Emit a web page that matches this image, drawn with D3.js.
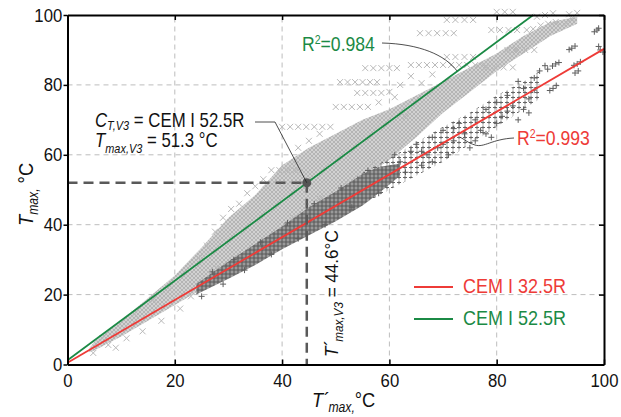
<!DOCTYPE html>
<html>
<head>
<meta charset="utf-8">
<script src="https://cdn.jsdelivr.net/npm/d3@7"></script>
<style>
  html, body { margin: 0; padding: 0; background: #fff; }
  svg { display: block; }
</style>
</head>
<body>
<svg id="chart" width="621" height="417"></svg>
<script>
// axis ticks
const xTicks = [0, 20, 40, 60, 80, 100];
const yTicks = [0, 20, 40, 60, 80, 100];
const gridTicks = [20, 40, 60, 80];

// fitted lines
const fit325 = [[0, 0.5], [100, 90.3]];
const fit525 = [[0, 1.2], [86.8, 100]];

// dense cloud of CEM I 52.5R (light x markers): envelope per x
const lightX     = [4,   5,   10,  15,  20,   25,   30, 35,   40, 45, 50, 55, 60, 65, 70, 75, 80, 85, 90, 95];
const lightUpper = [4.5, 6.5, 12.5, 19, 25.5, 33.5, 42, 48.5, 57, 62, 66, 70, 73, 77, 81, 85, 89, 94, 98, 99.5];
const lightLower = [3.5, 4,   8,   12.5, 17,  21.5, 26, 31.5, 38, 44, 48.5, 53.5, 58.5, 65, 72, 78, 84, 89, 94, 97.5];

// dense cloud of CEM I 32.5R (dark + markers)
const darkX     = [24, 30,   35,   40,   45, 50,   55,   58, 62];
const darkUpper = [23, 29.5, 34.5, 39.5, 45, 49.5, 54.5, 56.5, 57.5];
const darkLower = [20, 24.5, 28.5, 33,   37, 41,   45.5, 49, 54];
const sparseX     = [54, 60, 65, 70, 75, 80, 85, 88];
const sparseUpper = [54, 59, 63.5, 68, 72, 77, 81, 84];
const sparseLower = [45, 50, 54, 58, 63, 68, 73, 76];

// scattered CEM I 52.5R points (streaks and edges)
const lightPts = [
  [4.8, 3.3], [7.6, 5.6], [9, 4.8], [6.5, 7.5], [11, 7.5], [12.5, 14.5], [14, 9.5], [16, 18.5],
  [17.5, 12.5], [19, 21.5], [21, 16], [22, 26], [23, 19.5], [24.5, 30.5], [26, 34], [27.5, 38],
  [29, 42], [30.5, 44.5], [32, 46], [33.5, 49], [35, 51], [36.5, 53], [38, 55.6], [39.5, 55.6],
  [41, 55.6], [42.5, 55.6], [40, 68], [41.5, 68], [43, 68], [44.5, 68], [46, 68], [47.5, 68],
  [49, 68], [50, 73.7], [51.5, 73.7], [53, 73.7], [54.5, 73.7], [56, 73.7], [50.8, 80.8],
  [52.2, 80.8], [53.6, 80.8], [55, 80.8], [56.4, 80.8], [57.7, 80.8], [54, 77.7], [55.5, 77.7],
  [57, 77.7], [58.5, 77.7], [55.5, 84.8], [57, 84.8], [58.5, 84.8], [60, 84.8], [61.4, 84.8],
  [64, 85.7], [65.5, 85.7], [67, 85.7], [68.5, 85.7], [70, 85.7], [71.5, 85.7], [73, 85.7],
  [74.5, 85.7], [76, 85.7], [77.5, 85.7], [70.7, 88], [72.3, 88], [74, 88], [75.6, 88],
  [65.7, 94.8], [67.3, 94.8], [68.9, 94.8], [70.5, 94.8], [72, 94.8], [70.7, 98.6], [72.3, 98.6],
  [74, 98.6], [75.6, 98.6], [80, 100.9], [81.5, 100.9], [83, 100.9], [79, 95.7], [80.6, 95.7],
  [82.2, 95.7], [83.8, 95.7], [85.6, 95.7], [78, 85], [79.7, 85], [81.3, 85], [83, 85],
  [82, 90], [83.6, 90], [85.3, 90], [87, 90], [86.8, 96], [88.2, 97], [89.6, 97.5], [91, 98],
  [87.5, 99.5], [89, 100], [90.5, 100.5], [93, 97.7], [94, 99], [95, 100.6], [93.5, 100.2],
  [60, 78], [62, 80], [64, 82.5], [66, 80.5], [68, 83], [45, 64], [47, 66], [43, 62], [37, 50],
  [58, 75], [61, 76.5], [63, 71], [57, 58], [52, 52], [47, 47.5], [42, 42], [28, 27.5]
];

// scattered CEM I 32.5R points (sparse upper part and right clusters)
const darkPts = [
  [25, 19.5], [27, 26.5], [29, 23], [31, 30], [33, 27], [36, 35], [38, 31.5], [41, 40.5],
  [43, 36], [46, 46], [48, 40], [51, 50.5], [53, 45], [56, 55.5], [58, 49], [61, 60],
  [62, 58], [63, 55], [64, 61], [65, 63], [66, 57], [67, 60], [68, 65], [69, 62], [70, 67],
  [71, 60], [72, 64], [73, 69], [74, 66], [75, 62], [76, 70], [77, 67], [78, 73], [79, 65],
  [80, 75], [81, 71], [82, 77], [83, 74], [84, 70], [85, 79], [86, 76], [87, 82], [88, 84],
  [86, 72], [84, 81], [80, 69], [76, 64], [72, 67.5], [70, 63], [68, 58], [66, 61], [78, 66],
  [82, 72.5], [85, 73], [87, 78.5], [89, 85.5], [89.5, 84.5],
  [98.7, 95.7], [98.2, 95.2], [99, 96.2], [94, 90.5], [94.6, 91.1], [93.5, 90.1], [99.3, 90],
  [99.8, 89.4], [99, 91], [95, 86], [95.6, 86.6], [94.4, 85.6], [94.6, 83.4], [95.2, 84],
  [91, 86], [90.4, 85.4], [91.6, 86.4], [90.5, 79], [91.1, 79.8], [89.9, 78.4]
];

// annotation values
const v3Point = [44.6, 52.0];
const anchor984 = [72.6, 84];
const anchor993 = [73.2, 65];
const legendItems = [
  { label: 'CEM I 32.5R', color: '#ee3b37' },
  { label: 'CEM I 52.5R', color: '#1b8a45' }
];

const FONT = "'Liberation Sans Narrow','Arial Narrow','Liberation Sans',Arial,sans-serif";
const RED = '#ee3b37';
const GREEN = '#1b8a45';

const svg = d3.select('#chart');
const x = d3.scaleLinear().domain([0, 100]).range([67.5, 604]);
const y = d3.scaleLinear().domain([0, 100]).range([364.5, 15]);

// text squeezed horizontally to mimic the narrow face of the original
function label(px, py, size, fill, sx = 0.86, rot = 0) {
    return svg.append('text')
        .attr('transform', `translate(${px},${py})` + (rot ? ` rotate(${rot})` : '') + ` scale(${sx},1)`)
        .style('font-family', FONT)
        .style('font-size', size + 'px')
        .attr('fill', fill);
}

const defs = svg.append('defs');
const pLight = defs.append('pattern')
    .attr('id', 'pLight')
    .attr('patternUnits', 'userSpaceOnUse')
    .attr('width', 4).attr('height', 4);
pLight.append('rect').attr('width', 4).attr('height', 4).attr('fill', '#d2d2d2');
pLight.append('path')
    .attr('d', 'M0,0 L4,4 M4,0 L0,4')
    .attr('stroke', '#b4b4b4')
    .attr('stroke-width', 1);
const pDark = defs.append('pattern')
    .attr('id', 'pDark')
    .attr('patternUnits', 'userSpaceOnUse')
    .attr('width', 4).attr('height', 4);
pDark.append('rect').attr('width', 4).attr('height', 4).attr('fill', '#9a9a9a');
pDark.append('path')
    .attr('d', 'M2,0 V4 M0,2 H4')
    .attr('stroke', '#5a5a5a')
    .attr('stroke-width', 1.1);
const pSparse = defs.append('pattern')
    .attr('id', 'pSparse')
    .attr('patternUnits', 'userSpaceOnUse')
    .attr('width', 6).attr('height', 5);
pSparse.append('path')
    .attr('d', 'M3,0.5 V4.5 M1,2.5 H5')
    .attr('stroke', '#666')
    .attr('stroke-width', 1);

// grid
const grid = svg.append('g');
grid.selectAll('.gx').data(gridTicks).join('line')
    .attr('x1', d => x(d)).attr('x2', d => x(d))
    .attr('y1', y(0)).attr('y2', y(100))
    .attr('stroke', '#bdbdbd').attr('stroke-width', 1)
    .attr('stroke-dasharray', '5,4');
grid.selectAll('.gy').data(gridTicks).join('line')
    .attr('x1', x(0)).attr('x2', x(100))
    .attr('y1', d => y(d)).attr('y2', d => y(d))
    .attr('stroke', '#bdbdbd').attr('stroke-width', 1)
    .attr('stroke-dasharray', '5,4');

// clouds
const band = (xs, lo, hi) => d3.area()
    .x((d, i) => x(xs[i]))
    .y0((d, i) => y(lo[i]))
    .y1((d, i) => y(hi[i]))(xs);
svg.append('path').attr('d', band(lightX, lightLower, lightUpper)).attr('fill', 'url(#pLight)');

const cross = 3;
svg.append('g').selectAll('path').data(lightPts).join('path')
    .attr('d', d => `M${x(d[0]) - cross},${y(d[1]) - cross}l${2 * cross},${2 * cross}m0,${-2 * cross}l${-2 * cross},${2 * cross}`)
    .attr('stroke', '#b9b9b9').attr('stroke-width', 1).attr('fill', 'none');

svg.append('path').attr('d', band(sparseX, sparseLower, sparseUpper)).attr('fill', 'url(#pSparse)');
svg.append('path').attr('d', band(darkX, darkLower, darkUpper)).attr('fill', 'url(#pDark)');

svg.append('g').selectAll('path').data(darkPts).join('path')
    .attr('d', d => `M${x(d[0]) - 3},${y(d[1])}h6m-3,-3v6`)
    .attr('stroke', '#5f5f5f').attr('stroke-width', 1).attr('fill', 'none');

// fits
const line = d3.line().x(d => x(d[0])).y(d => y(d[1]));
svg.append('path').attr('d', line(fit525)).attr('stroke', GREEN).attr('stroke-width', 1.8).attr('fill', 'none');
svg.append('path').attr('d', line(fit325)).attr('stroke', RED).attr('stroke-width', 1.8).attr('fill', 'none');

// V3 guide lines
svg.append('line')
    .attr('x1', x(0)).attr('x2', x(v3Point[0]))
    .attr('y1', y(v3Point[1])).attr('y2', y(v3Point[1]))
    .attr('stroke', '#595959').attr('stroke-width', 2.5).attr('stroke-dasharray', '10,6');
svg.append('line')
    .attr('x1', x(v3Point[0])).attr('x2', x(v3Point[0]))
    .attr('y1', y(v3Point[1])).attr('y2', y(0))
    .attr('stroke', '#595959').attr('stroke-width', 2.5).attr('stroke-dasharray', '10,6');
svg.append('circle')
    .attr('cx', x(v3Point[0])).attr('cy', y(v3Point[1])).attr('r', 4.5)
    .attr('fill', '#555');

// axes
const axG = svg.append('g');
const styleAxis = g => {
    g.select('.domain').attr('stroke', '#000').attr('stroke-width', 2);
    g.selectAll('.tick line').attr('stroke', '#000').attr('stroke-width', 1.5);
    g.selectAll('.tick text').attr('fill', '#111')
        .style('font-size', '19px').style('font-family', FONT)
        .attr('transform', 'scale(0.88,1)');
};
axG.append('g').attr('transform', `translate(0,${y(0)})`)
    .call(d3.axisBottom(x).tickValues(xTicks).tickSizeInner(-5).tickSizeOuter(0).tickPadding(9))
    .call(styleAxis);
axG.append('g').attr('transform', `translate(${x(0)},0)`)
    .call(d3.axisLeft(y).tickValues(yTicks).tickSizeInner(4).tickSizeOuter(0).tickPadding(2))
    .call(styleAxis);
axG.append('g').attr('transform', `translate(0,${y(100)})`)
    .call(d3.axisTop(x).tickValues(xTicks).tickSizeInner(-5).tickSizeOuter(0).tickFormat(''))
    .call(styleAxis);
axG.append('g').attr('transform', `translate(${x(100)},0)`)
    .call(d3.axisRight(y).tickValues(yTicks).tickSizeInner(-5).tickSizeOuter(0).tickFormat(''))
    .call(styleAxis);

// axis titles
const xt = label(312, 407, 21, '#111', 0.87);
xt.append('tspan').style('font-style', 'italic').text('T');
xt.append('tspan').attr('dx', 1).text('´');
xt.append('tspan').attr('dx', -2).attr('dy', 5).style('font-size', '14px').style('font-style', 'italic').text('max,');
xt.append('tspan').attr('dy', -5).text('°C');

const yt = label(33, 226, 21, '#111', 0.87, -90);
yt.append('tspan').style('font-style', 'italic').text('T');
yt.append('tspan').attr('dy', 5).style('font-size', '14px').style('font-style', 'italic').text('max,');
yt.append('tspan').attr('dy', -5).text(' °C');

// annotation V3 block
const a1 = label(95, 127, 20, '#111', 0.84);
a1.append('tspan').style('font-style', 'italic').text('C');
a1.append('tspan').attr('dy', 3).style('font-size', '13px').style('font-style', 'italic').text('T,V3');
a1.append('tspan').attr('dy', -3).text(' = CEM I 52.5R');
const a2 = label(95, 147, 20, '#111', 0.84);
a2.append('tspan').style('font-style', 'italic').text('T');
a2.append('tspan').attr('dy', 6).style('font-size', '13px').style('font-style', 'italic').text('max,V3');
a2.append('tspan').attr('dy', -6).text(' = 51.3 °C');
svg.append('path')
    .attr('d', `M255,122 H275 L${x(v3Point[0])},${y(v3Point[1])}`)
    .attr('stroke', '#222').attr('stroke-width', 0.8).attr('fill', 'none');

// rotated label on the vertical guide
const a3 = label(338, 357, 19, '#111', 0.9, -90);
a3.append('tspan').style('font-style', 'italic').text('T');
a3.append('tspan').attr('dx', 1).text('´');
a3.append('tspan').attr('dx', -2).attr('dy', 5).style('font-size', '13px').style('font-style', 'italic').text('max,V3');
a3.append('tspan').attr('dy', -5).text(' = 44.6°C');

// R² labels
const r1 = label(302, 51, 20, GREEN, 0.88);
r1.append('tspan').text('R');
r1.append('tspan').attr('dy', -7).style('font-size', '12px').text('2');
r1.append('tspan').attr('dy', 7).text('=0.984');
svg.append('path')
    .attr('d', `M382,43 C420,44 445,55 ${x(anchor984[0])},${y(anchor984[1])}`)
    .attr('stroke', '#222').attr('stroke-width', 0.8).attr('fill', 'none');

const r2 = label(517, 145, 20, RED, 0.88);
r2.append('tspan').text('R');
r2.append('tspan').attr('dy', -7).style('font-size', '12px').text('2');
r2.append('tspan').attr('dy', 7).text('=0.993');
svg.append('path')
    .attr('d', `M514,138 C492,139 484,148 475,145 C468,143 464,139 ${x(anchor993[0])},${y(anchor993[1])}`)
    .attr('stroke', '#222').attr('stroke-width', 0.8).attr('fill', 'none');

// legend
const lg = svg.append('g').attr('transform', 'translate(414,287)');
legendItems.forEach((d, i) => {
    lg.append('line').attr('x1', 0).attr('x2', 39)
        .attr('y1', i * 32).attr('y2', i * 32)
        .attr('stroke', d.color).attr('stroke-width', 1.8);
    lg.append('text')
        .attr('transform', `translate(49,${i * 32 + 6}) scale(0.9,1)`)
        .style('font-family', FONT).style('font-size', '20px')
        .attr('fill', d.color).text(d.label);
});
</script>
</body>
</html>
